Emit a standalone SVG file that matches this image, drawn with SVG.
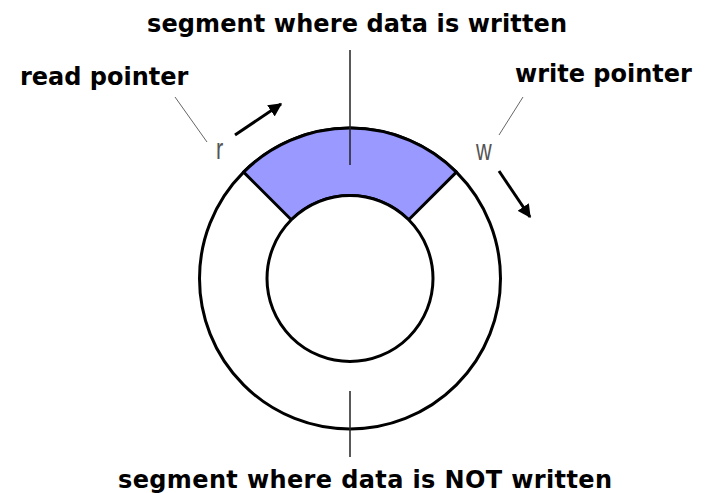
<svg xmlns="http://www.w3.org/2000/svg" width="712" height="493" viewBox="0 0 712 493">
  <style>
    .title { font-family: "DejaVu Sans", "Liberation Sans", sans-serif; font-weight: bold; font-size: 24px; fill: #000; }
    .ptr { font-family: "Liberation Sans", "DejaVu Sans", sans-serif; font-size: 29px; fill: #555; }
    .ring { fill: #fff; stroke: #000; stroke-width: 3; }
    .seg { fill: #9999ff; stroke: #000; stroke-width: 3; stroke-linejoin: round; }
    .leader { stroke: #666; stroke-width: 1; fill: none; }
    .callout { stroke: #222; stroke-width: 1.5; fill: none; }
    .move { stroke: #000; stroke-width: 3; fill: none; }
  </style>
  <defs>
    <marker id="head" viewBox="0 0 10 10" refX="9" refY="5" markerWidth="4.5" markerHeight="4.5" orient="auto" markerUnits="strokeWidth">
      <path d="M0,0 L10,5 L0,10 z" fill="#000"/>
    </marker>
  </defs>
  <rect width="712" height="493" fill="#fff"/>

  <!-- buffer ring -->
  <g id="ring">
    <circle class="ring" cx="350" cy="278.5" r="150.5"/>
  </g>

  <!-- filled (written) segment between read and write pointers -->
  <g id="written-segment">
    <path class="seg" d="M243.6,172.1 A150.5,150.5 0 0 1 456.4,172.1 L408.7,219.8 A83,83 0 0 0 291.3,219.8 Z"/>
  </g>

  <g id="hub">
    <circle class="ring" cx="350" cy="278.5" r="83"/>
  </g>

  <g id="label-written">
    <text class="title" x="147" y="32" textLength="420">segment where data is written</text>
  </g>
  <g id="label-not-written">
    <text class="title" x="118" y="488" textLength="494">segment where data is NOT written</text>
  </g>
  <g id="label-read">
    <text class="title" x="20" y="85">read pointer</text>
    <text class="ptr" transform="translate(216,159) scale(0.75,1)">r</text>
  </g>
  <g id="label-write">
    <text class="title" x="515" y="82">write pointer</text>
    <text class="ptr" transform="translate(476,160) scale(0.75,1)">w</text>
  </g>

  <g id="connectors">
    <line class="callout" x1="350" y1="50" x2="350" y2="165"/>
    <line class="callout" x1="350" y1="391" x2="350" y2="457"/>
    <line class="leader" x1="175" y1="97" x2="207" y2="142"/>
    <line class="leader" x1="523" y1="97" x2="499" y2="135"/>
    <line class="move" x1="235" y1="135" x2="281" y2="104" marker-end="url(#head)"/>
    <line class="move" x1="499" y1="171" x2="530" y2="217" marker-end="url(#head)"/>
  </g>
</svg>
